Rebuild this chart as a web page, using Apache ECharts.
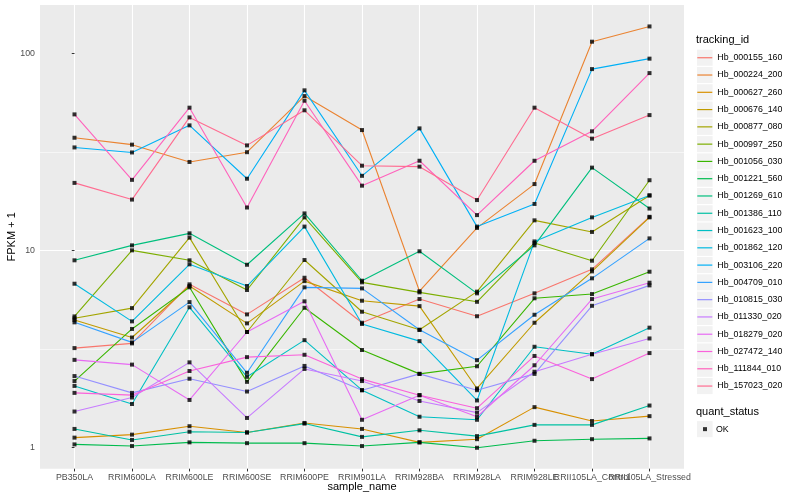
<!DOCTYPE html>
<html><head><meta charset="utf-8">
<script src="https://cdn.jsdelivr.net/npm/echarts@6/dist/echarts.min.js"></script>
<style>html,body{margin:0;padding:0;background:#fff}#c{width:800px;height:500px}</style>
</head><body><div id="c"></div>
<script>
// ---------- data ----------
const categories = ['PB350LA','RRIM600LA','RRIM600LE','RRIM600SE','RRIM600PE','RRIM901LA','RRIM928BA','RRIM928LA','RRIM928LE','RRII105LA_Control','RRII105LA_Stressed'];
const trackingIds = ['Hb_000155_160','Hb_000224_200','Hb_000627_260','Hb_000676_140','Hb_000877_080','Hb_000997_250','Hb_001056_030','Hb_001221_560','Hb_001269_610','Hb_001386_110','Hb_001623_100','Hb_001862_120','Hb_003106_220','Hb_004709_010','Hb_010815_030','Hb_011330_020','Hb_018279_020','Hb_027472_140','Hb_111844_010','Hb_157023_020'];
const colors = ['#F8766D','#EA8331','#D89000','#C09B00','#A3A500','#7CAE00','#39B600','#00BB4E','#00BF7D','#00C1A3','#00BFC4','#00BAE0','#00B0F6','#35A2FF','#9590FF','#C77CFF','#E76BF3','#FA62DB','#FF62BC','#FF6C91'];

// FPKM + 1 values, one array per tracking_id (order = categories)
const Hb_000155_160 = [3.19, 3.37, 6.72, 4.73, 7.26, 4.29, 5.66, 4.63, 6.05, 8.01, 14.8];
const Hb_000224_200 = [37.3, 34.4, 28.1, 31.5, 60.7, 40.8, 6.2, 13.0, 21.7, 114.6, 137];
const Hb_000627_260 = [1.12, 1.16, 1.28, 1.19, 1.33, 1.24, 1.06, 1.10, 1.60, 1.36, 1.44];
const Hb_000676_140 = [4.43, 3.61, 6.59, 4.26, 6.98, 5.55, 5.21, 1.99, 4.29, 7.82, 14.7];
const Hb_000877_080 = [4.52, 5.09, 11.6, 3.85, 8.93, 4.88, 3.95, 6.17, 14.2, 12.4, 19.0];
const Hb_000997_250 = [4.62, 10.0, 8.9, 6.29, 14.7, 6.88, 6.12, 5.48, 10.9, 8.86, 22.7];
const Hb_001056_030 = [2.17, 3.99, 6.49, 2.15, 5.11, 3.12, 2.36, 2.58, 5.71, 6.0, 7.79];
const Hb_001221_560 = [1.035, 1.015, 1.06, 1.05, 1.05, 1.015, 1.06, 0.995, 1.08, 1.10, 1.11];
const Hb_001269_610 = [8.9, 10.6, 12.2, 8.45, 15.4, 7.01, 9.89, 6.05, 10.6, 26.3, 16.3];
const Hb_001386_110 = [1.24, 1.09, 1.20, 1.19, 1.32, 1.13, 1.22, 1.14, 1.30, 1.30, 1.63];
const Hb_001623_100 = [2.05, 1.66, 5.14, 2.28, 3.5, 1.95, 1.43, 1.38, 3.24, 2.97, 4.05];
const Hb_001862_120 = [6.77, 4.36, 8.49, 6.59, 13.2, 4.23, 3.46, 1.73, 11.1, 14.7, 19.0];
const Hb_003106_220 = [33.3, 31.4, 43.1, 23.1, 64.9, 23.9, 41.6, 13.2, 17.2, 83.2, 94];
const Hb_004709_010 = [4.31, 3.41, 5.46, 2.39, 6.49, 6.41, 3.95, 2.77, 4.71, 7.21, 11.5];
const Hb_010815_030 = [2.30, 1.89, 2.23, 1.92, 2.59, 1.95, 2.36, 1.95, 2.36, 5.23, 6.64];
const Hb_011330_020 = [1.52, 1.79, 2.70, 1.41, 2.50, 2.17, 1.72, 1.50, 2.42, 2.97, 3.57];
const Hb_018279_020 = [2.78, 2.63, 1.74, 3.85, 5.51, 1.38, 1.84, 1.43, 2.61, 5.66, 6.85];
const Hb_027472_140 = [1.89, 1.84, 2.44, 2.87, 2.95, 2.22, 1.84, 1.58, 2.91, 2.22, 3.01];
const Hb_111844_010 = [49, 22.8, 53, 16.5, 57.5, 21.3, 28.5, 15.1, 28.5, 40.2, 79.4];
const Hb_157023_020 = [22, 18.1, 47.3, 34.1, 51.4, 26.9, 26.6, 18.0, 53, 36.9, 48.6];

const seriesValues = [Hb_000155_160, Hb_000224_200, Hb_000627_260, Hb_000676_140, Hb_000877_080, Hb_000997_250, Hb_001056_030, Hb_001221_560, Hb_001269_610, Hb_001386_110, Hb_001623_100, Hb_001862_120, Hb_003106_220, Hb_004709_010, Hb_010815_030, Hb_011330_020, Hb_018279_020, Hb_027472_140, Hb_111844_010, Hb_157023_020];

const yTicks = [1, 10, 100];
const yMinorTicks = [3.1623, 31.623];
const quantStatus = 'OK';

// ---------- chart ----------
const FONT = '"Liberation Sans", Arial, Helvetica, sans-serif';
const chart = echarts.init(document.getElementById('c'), null, { renderer: 'canvas' });
const catIdx = categories.map((c, i) => i);
const evenIdx = catIdx.filter(i => i % 2 === 0);
const oddIdx = catIdx.filter(i => i % 2 === 1);

const lineSeries = trackingIds.map((id, k) => ({
  name: id,
  type: 'line',
  xAxisIndex: 0,
  data: seriesValues[k].map((v, i) => [i, v]),
  symbol: 'none',
  showSymbol: false,
  lineStyle: { color: colors[k], width: 1.1 },
  itemStyle: { color: colors[k] },
  z: 2,
  silent: true
}));

const allPoints = [];
seriesValues.forEach(arr => arr.forEach((v, i) => allPoints.push([i, v])));

const pointSeries = {
  name: quantStatus,
  type: 'scatter',
  xAxisIndex: 0,
  symbol: 'rect',
  symbolSize: 4,
  itemStyle: { color: '#000' },
  data: allPoints,
  z: 3,
  silent: true
};

const minorGrid = {
  name: 'minor-grid',
  type: 'line',
  xAxisIndex: 0,
  data: [],
  silent: true,
  markLine: {
    silent: true,
    symbol: 'none',
    z: 1,
    animation: false,
    label: { show: false },
    lineStyle: { color: '#FFFFFF', width: 0.55, type: 'solid' },
    data: yMinorTicks.map(v => ({ yAxis: v }))
  }
};

// legend key backgrounds (decoration)
const KEY = 17.28, LEG1_TOP = 49.1, LEG2_TOP = 420.5, KEY_X = 697;
const keyRects = trackingIds.map((id, i) => ({
  type: 'rect', silent: true, z: 0,
  shape: { x: KEY_X, y: LEG1_TOP + i * KEY + 0.6, width: 15.6, height: KEY - 1.2 },
  style: { fill: '#F2F2F2' }
}));
keyRects.push({
  type: 'rect', silent: true, z: 0,
  shape: { x: KEY_X, y: LEG2_TOP + 0.6, width: 15.6, height: KEY - 1.2 },
  style: { fill: '#F2F2F2' }
});

function xAxisDef(values, withName) {
  return {
    type: 'value', min: -0.6, max: 10.6, position: 'bottom', offset: 0,
    axisLine: { show: false },
    axisTick: { show: true, length: 2.75, lineStyle: { color: '#333333', width: 1 }, customValues: values },
    axisLabel: { customValues: values, formatter: v => categories[Math.round(v)] || '', fontSize: 8.8, color: '#4D4D4D', margin: 4, fontFamily: FONT, hideOverlap: false, showMinLabel: true, showMaxLabel: true },
    splitLine: { show: true, lineStyle: { color: '#FFFFFF', width: 1.1 } },
    name: withName ? 'sample_name' : '', nameLocation: 'middle', nameGap: 13, nameMoveOverlap: false,
    nameTextStyle: { fontSize: 11, color: '#000', fontFamily: FONT }
  };
}

const option = {
  animation: false,
  textStyle: { fontFamily: FONT },
  title: [
    { text: 'tracking_id', left: 696, top: 34, padding: 0, textStyle: { fontSize: 11, fontWeight: 'normal', color: '#000', fontFamily: FONT } },
    { text: 'quant_status', left: 696, top: 406, padding: 0, textStyle: { fontSize: 11, fontWeight: 'normal', color: '#000', fontFamily: FONT } }
  ],
  graphic: keyRects,
  legend: [
    {
      orient: 'vertical', left: KEY_X + 0.3, top: LEG1_TOP, padding: 0, itemGap: 0,
      itemWidth: 15, itemHeight: 1.2, icon: 'rect', selectedMode: false,
      textStyle: { fontSize: 8.8, lineHeight: KEY, color: '#000', fontFamily: FONT },
      data: trackingIds
    },
    {
      orient: 'vertical', left: 703, top: LEG2_TOP, padding: 0, itemGap: 0,
      itemWidth: 4, itemHeight: 4, icon: 'rect', selectedMode: false,
      textStyle: { fontSize: 8.8, lineHeight: KEY, color: '#000', fontFamily: FONT, padding: [0, 0, 0, 4] },
      data: [quantStatus]
    }
  ],
  grid: {
    left: 40, top: 5, width: 644, height: 463.7,
    show: true, backgroundColor: '#EBEBEB', borderWidth: 0,
    containLabel: false, outerBoundsMode: 'none'
  },
  xAxis: [xAxisDef(evenIdx, true), xAxisDef(oddIdx, false)],
  yAxis: {
    type: 'log', logBase: 10, min: 0.779, max: 176,
    axisLine: { show: false },
    axisTick: { show: true, length: 2.75, lineStyle: { color: '#333333', width: 1 }, customValues: yTicks },
    axisLabel: { customValues: yTicks, formatter: v => String(Math.round(v)), fontSize: 8.8, color: '#4D4D4D', margin: 5, fontFamily: FONT },
    splitLine: { show: true, showMinLine: false, showMaxLine: false, lineStyle: { color: '#FFFFFF', width: 1.1 } },
    name: 'FPKM + 1', nameLocation: 'middle', nameGap: 22.5, nameRotate: 90, nameMoveOverlap: false,
    nameTextStyle: { fontSize: 11, color: '#000', fontFamily: FONT }
  },
  series: [minorGrid].concat(lineSeries, [pointSeries])
};
chart.setOption(option);
</script>
</body></html>
